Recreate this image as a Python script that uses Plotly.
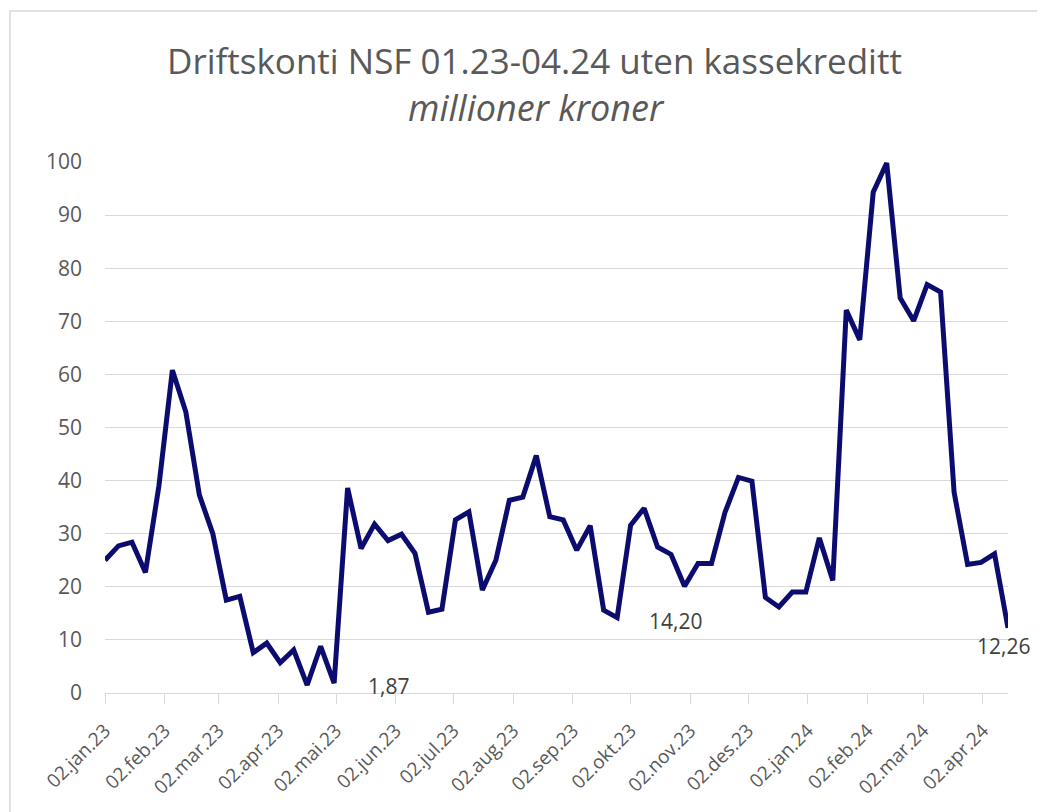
import pandas as pd
import plotly.graph_objects as go

# ---- data ----
start_date = "2023-01-02"
n_weeks = 68
dates = pd.date_range(start_date, periods=n_weeks, freq="7D")

values = [
    25.0, 27.7, 28.4, 22.7, 39.0, 60.8, 52.9, 37.3, 30.0, 17.5,
    18.2, 7.6, 9.4, 5.7, 8.1, 1.5, 8.8, 1.87, 38.6, 27.2,
    31.8, 28.7, 29.9, 26.3, 15.2, 15.8, 32.6, 34.1, 19.4, 25.0,
    36.3, 36.9, 44.7, 33.2, 32.6, 26.9, 31.5, 15.6, 14.20, 31.6,
    34.8, 27.5, 26.1, 20.1, 24.4, 24.4, 34.0, 40.6, 39.9, 18.0,
    16.2, 19.0, 19.0, 29.2, 21.2, 72.1, 66.5, 94.3, 99.8, 74.4,
    70.1, 76.9, 75.5, 37.8, 24.2, 24.6, 26.2, 12.26,
]

tick_dates = [
    "2023-01-02", "2023-02-02", "2023-03-02", "2023-04-02", "2023-05-02",
    "2023-06-02", "2023-07-02", "2023-08-02", "2023-09-02", "2023-10-02",
    "2023-11-02", "2023-12-02", "2024-01-02", "2024-02-02", "2024-03-02",
    "2024-04-02",
]
tick_labels = [
    "02.jan.23", "02.feb.23", "02.mar.23", "02.apr.23", "02.mai.23",
    "02.jun.23", "02.jul.23", "02.aug.23", "02.sep.23", "02.okt.23",
    "02.nov.23", "02.des.23", "02.jan.24", "02.feb.24", "02.mar.24",
    "02.apr.24",
]
labelled_points = [17, 38, 67]
label_shifts = [(54, -3), (58, -3), (-5, -18)]

title_text = "Driftskonti NSF 01.23-04.24 uten kassekreditt"
subtitle_text = "millioner kroner"

FONT = "Open Sans"
GREY = "#595959"
GRID = "#d9d9d9"
LINE = "#0c0c70"

# plot-area geometry in page pixels (page has an 8px body offset)
PL, PR, PT, PB = 105, 1008, 162, 693
OFF = 8
PW, PH = PR - PL, PB - PT


def px_x(x):
    return (x - PL) / PW


def px_y(y):
    return (PB - y) / PH


fig = go.Figure()
fig.add_trace(go.Scatter(
    x=dates, y=values, mode="lines",
    line=dict(color=LINE, width=5),
    hoverinfo="skip", showlegend=False,
))

for idx, (dx, dy) in zip(labelled_points, label_shifts):
    fig.add_annotation(
        x=dates[idx], y=values[idx], xref="x", yref="y",
        text=f"{values[idx]:.2f}".replace(".", ","),
        showarrow=False, xshift=dx, yshift=dy,
        font=dict(family=FONT, size=21, color="#404040"),
    )

# titles
fig.add_annotation(
    xref="paper", yref="paper", x=px_x(534.5), y=px_y(60),
    text=title_text, showarrow=False, xanchor="center", yanchor="middle",
    font=dict(family=FONT, size=35, color=GREY),
)
fig.add_annotation(
    xref="paper", yref="paper", x=px_x(536.5), y=px_y(107),
    text=f"<i>{subtitle_text}</i>", showarrow=False, xanchor="center", yanchor="middle",
    font=dict(family=FONT, size=36, color=GREY),
)

# chart border
fig.add_shape(
    type="rect", xref="paper", yref="paper",
    x0=px_x(10), x1=px_x(1070),
    y0=px_y(840), y1=px_y(11),
    line=dict(color=GRID, width=1.5), fillcolor="rgba(0,0,0,0)", layer="below",
)

fig.update_layout(
    width=1045, height=812,
    margin=dict(l=PL - OFF, r=1045 + OFF - PR, t=PT - OFF, b=812 + OFF - PB),
    paper_bgcolor="white", plot_bgcolor="white",
    font=dict(family=FONT, color=GREY),
    xaxis=dict(
        type="date", range=[dates[0], dates[-1]],
        tickmode="array", tickvals=tick_dates, ticktext=tick_labels,
        tickangle=-45, tickfont=dict(size=19, color=GREY, family=FONT),
        ticks="outside", ticklen=10, tickcolor=GRID, tickwidth=1.3,
        ticklabelstandoff=8,
        showline=True, linecolor=GRID, linewidth=1.3,
        showgrid=False, zeroline=False,
    ),
    yaxis=dict(
        range=[0, 100], dtick=10, tick0=0,
        tickfont=dict(size=21, color=GREY, family=FONT),
        showgrid=True, gridcolor=GRID, gridwidth=1.3,
        zeroline=False, showline=False, ticks="",
        ticklabelstandoff=22,
    ),
)

fig.write_html("out.html")
